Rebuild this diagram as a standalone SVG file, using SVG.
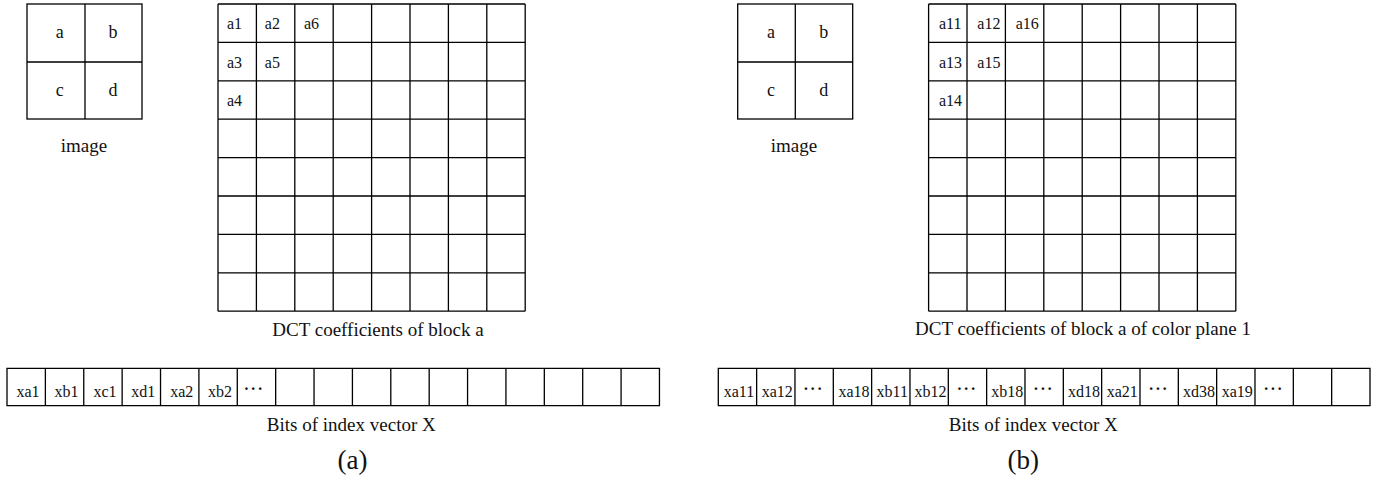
<svg xmlns="http://www.w3.org/2000/svg" width="1383" height="479" viewBox="0 0 1383 479">
<style>
.ln{fill:none;stroke:#000;stroke-width:1.3}
.t{font-family:"Liberation Serif","Times New Roman",serif;fill:#111}
.cap{font-size:19px;text-anchor:middle}
.lab{font-size:18px;text-anchor:middle}
.cell{font-size:16px}
.bit{font-size:16px;text-anchor:middle}
.dots{font-size:16px;text-anchor:middle;letter-spacing:1.5px;font-weight:bold}
.sub{font-size:27px;text-anchor:middle}
</style>
<rect width="1383" height="479" fill="#fff"/>

<g id="image-a">
<rect class="ln" x="27" y="4" width="115" height="115"/>
<path class="ln" d="M85 4V119M27 62H142"/>
<text class="t lab" x="59.7" y="38">a</text>
<text class="t lab" x="113" y="38">b</text>
<text class="t lab" x="59.7" y="96">c</text>
<text class="t lab" x="113" y="96">d</text>
<text class="t cap" x="84" y="152">image</text>
</g>

<g id="dct-a">
<path class="ln" d="M218 4V311.2M256.4 4V311.2M294.8 4V311.2M333.2 4V311.2M371.6 4V311.2M410 4V311.2M448.4 4V311.2M486.8 4V311.2M525.2 4V311.2M218 4H525.2M218 42.4H525.2M218 80.8H525.2M218 119.2H525.2M218 157.6H525.2M218 196H525.2M218 234.4H525.2M218 272.8H525.2M218 311.2H525.2"/>
<text class="t cell" x="227" y="29.3">a1</text>
<text class="t cell" x="264.8" y="29.3">a2</text>
<text class="t cell" x="304" y="29.3">a6</text>
<text class="t cell" x="227" y="67.7">a3</text>
<text class="t cell" x="264.8" y="67.7">a5</text>
<text class="t cell" x="227" y="106.1">a4</text>
<text class="t cap" x="378" y="336">DCT coefficients of block a</text>
</g>

<g id="bits-a">
<path class="ln" d="M7 368.3H659.46V405.7H7ZM45.38 368.3V405.7M83.76 368.3V405.7M122.14 368.3V405.7M160.52 368.3V405.7M198.9 368.3V405.7M237.28 368.3V405.7M275.66 368.3V405.7M314.04 368.3V405.7M352.42 368.3V405.7M390.8 368.3V405.7M429.18 368.3V405.7M467.56 368.3V405.7M505.94 368.3V405.7M544.32 368.3V405.7M582.7 368.3V405.7M621.08 368.3V405.7"/>
<text class="t bit" x="28" y="397">xa1</text>
<text class="t bit" x="66.5" y="397">xb1</text>
<text class="t bit" x="105" y="397">xc1</text>
<text class="t bit" x="143.3" y="397">xd1</text>
<text class="t bit" x="181.7" y="397">xa2</text>
<text class="t bit" x="220" y="397">xb2</text>
<text class="t dots" x="254" y="394">···</text>
<text class="t cap" x="351.3" y="431">Bits of index vector X</text>
<text class="t sub" x="352.5" y="469">(a)</text>
</g>

<g id="image-b">
<rect class="ln" x="737.7" y="4" width="115" height="115"/>
<path class="ln" d="M795.3 4V119M737.7 62H852.7"/>
<text class="t lab" x="771" y="38">a</text>
<text class="t lab" x="823.7" y="38">b</text>
<text class="t lab" x="771" y="96">c</text>
<text class="t lab" x="823.7" y="96">d</text>
<text class="t cap" x="794" y="152">image</text>
</g>

<g id="dct-b">
<path class="ln" d="M928.6 4V311.2M967 4V311.2M1005.4 4V311.2M1043.8 4V311.2M1082.2 4V311.2M1120.6 4V311.2M1159 4V311.2M1197.4 4V311.2M1235.8 4V311.2M928.6 4H1235.8M928.6 42.4H1235.8M928.6 80.8H1235.8M928.6 119.2H1235.8M928.6 157.6H1235.8M928.6 196H1235.8M928.6 234.4H1235.8M928.6 272.8H1235.8M928.6 311.2H1235.8"/>
<text class="t cell" x="939" y="29.3">a11</text>
<text class="t cell" x="977.3" y="29.3">a12</text>
<text class="t cell" x="1015.7" y="29.3">a16</text>
<text class="t cell" x="939" y="67.7">a13</text>
<text class="t cell" x="977.3" y="67.7">a15</text>
<text class="t cell" x="939" y="106.1">a14</text>
<text class="t cap" x="1083" y="334.5">DCT coefficients of block a of color plane 1</text>
</g>

<g id="bits-b">
<path class="ln" d="M718.3 368.3H1370V405.7H718.3ZM756.64 368.3V405.7M794.97 368.3V405.7M833.31 368.3V405.7M871.64 368.3V405.7M909.98 368.3V405.7M948.31 368.3V405.7M986.65 368.3V405.7M1024.98 368.3V405.7M1063.32 368.3V405.7M1101.65 368.3V405.7M1139.99 368.3V405.7M1178.32 368.3V405.7M1216.66 368.3V405.7M1254.99 368.3V405.7M1293.33 368.3V405.7M1331.66 368.3V405.7"/>
<text class="t bit" x="739" y="397">xa11</text>
<text class="t bit" x="777.3" y="397">xa12</text>
<text class="t dots" x="813.5" y="394">···</text>
<text class="t bit" x="854" y="397">xa18</text>
<text class="t bit" x="892.3" y="397">xb11</text>
<text class="t bit" x="930.6" y="397">xb12</text>
<text class="t dots" x="967" y="394">···</text>
<text class="t bit" x="1007.3" y="397">xb18</text>
<text class="t dots" x="1043.6" y="394">···</text>
<text class="t bit" x="1084" y="397">xd18</text>
<text class="t bit" x="1122.3" y="397">xa21</text>
<text class="t dots" x="1158.7" y="394">···</text>
<text class="t bit" x="1199" y="397">xd38</text>
<text class="t bit" x="1237.3" y="397">xa19</text>
<text class="t dots" x="1273.7" y="394">···</text>
<text class="t cap" x="1033.3" y="431">Bits of index vector X</text>
<text class="t sub" x="1023.3" y="469">(b)</text>
</g>
</svg>
